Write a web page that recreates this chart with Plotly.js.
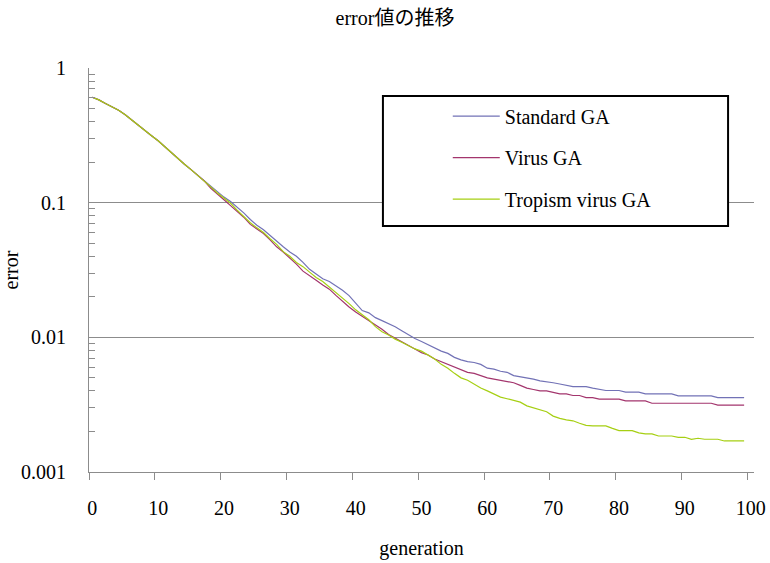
<!DOCTYPE html>
<html>
<head>
<meta charset="utf-8">
<script src="https://cdn.plot.ly/plotly-3.0.1.min.js"></script>
<style>html,body{margin:0;padding:0;background:#fff;}#chart{width:770px;height:563px;}</style>
</head>
<body>
<div id="chart"></div>
<script>
var generation = [0,1,2,3,4,5,6,7,8,9,10,11,12,13,14,15,16,17,18,19,20,21,22,23,24,25,26,27,28,29,30,31,32,33,34,35,36,37,38,39,40,41,42,43,44,45,46,47,48,49,50,51,52,53,54,55,56,57,58,59,60,61,62,63,64,65,66,67,68,69,70,71,72,73,74,75,76,77,78,79,80,81,82,83,84,85,86,87,88,89,90,91,92,93,94,95,96,97,98,99];

var standardGA = [0.606,0.58,0.545,0.515,0.485,0.45,0.41,0.372,0.343,0.314,0.288,0.26,0.236,0.215,0.193,0.176,0.16,
  0.147,0.132,0.12,0.11,0.102,0.093,0.084,0.075,0.068,0.063,0.057,0.052,0.047,0.043,0.040,0.036,0.032,0.0295,
  0.0272,0.026,0.0243,0.0224,0.0204,0.0180,0.0158,0.0152,0.0140,0.0133,0.0127,0.0120,0.0112,0.0104,0.0098,
  0.0093,0.0088,0.0084,0.0079,0.0076,0.0071,0.0068,0.0066,0.0065,0.0063,0.0059,0.0058,0.0056,0.0055,0.0052,
  0.0051,0.0050,0.0049,0.00475,0.0047,0.0046,0.0045,0.0044,0.0043,0.0043,0.0043,0.0042,0.0041,0.00403,0.00403,
  0.00403,0.00392,0.00392,0.00392,0.0038,0.0038,0.0038,0.0038,0.0038,0.00368,0.00368,0.00368,0.00368,0.00368,
  0.00368,0.00357,0.00357,0.00357,0.00357,0.00357];

var virusGA = [0.606,0.58,0.545,0.515,0.485,0.45,0.41,0.372,0.343,0.314,0.288,0.26,0.236,0.215,0.193,0.176,0.16,
  0.145,0.128,0.115,0.105,0.095,0.086,0.078,0.069,0.064,0.059,0.053,0.047,0.043,0.039,0.035,0.031,0.0285,0.0265,
  0.0245,0.0228,0.0205,0.0185,0.0168,0.0154,0.0143,0.0133,0.0124,0.0115,0.0105,0.0099,0.0093,0.0087,0.0082,
  0.0077,0.0074,0.0069,0.0066,0.0063,0.0060,0.0057,0.0055,0.0054,0.0052,0.0050,0.0049,0.0048,0.0047,0.0046,
  0.0044,0.0042,0.0041,0.0040,0.0040,0.0039,0.0038,0.0038,0.0037,0.0037,0.00357,0.00357,0.00348,0.00348,0.00348,
  0.00348,0.00337,0.00337,0.00337,0.00337,0.00324,0.00324,0.00324,0.00324,0.00324,0.00324,0.00324,0.00324,0.00324,
  0.00324,0.00314,0.00314,0.00314,0.00314,0.00314];

var tropismGA = [0.606,0.58,0.545,0.515,0.485,0.45,0.41,0.372,0.343,0.314,0.288,0.26,0.236,0.215,0.193,0.176,0.16,
  0.146,0.131,0.118,0.108,0.099,0.088,0.079,0.071,0.065,0.06,0.054,0.049,0.0433,0.040,0.036,0.0335,0.0305,0.0278,
  0.026,0.0237,0.0215,0.0198,0.0178,0.016,0.0146,0.0135,0.012,0.011,0.0104,0.0097,0.0092,0.0087,0.0082,
  0.0079,0.0074,0.0069,0.0063,0.0059,0.0054,0.0050,0.0048,0.0045,0.0042,0.0040,0.0038,0.0036,0.0035,0.0034,
  0.0033,0.0031,0.0030,0.0029,0.0028,0.0026,0.0025,0.00244,0.0024,0.0023,0.00222,0.0022,0.0022,0.0022,0.00211,
  0.00203,0.00203,0.00203,0.00195,0.00192,0.00192,0.00185,0.00185,0.00185,0.00181,0.00181,0.00175,0.00178,0.00175,
  0.00175,0.00175,0.0017,0.0017,0.0017,0.0017];

var seriesNames = ['Standard GA', 'Virus GA', 'Tropism virus GA'];
var seriesColors = ['#7272b6', '#a3356d', '#a6cf13'];
var xTickVals = [0,10,20,30,40,50,60,70,80,90,100];
var xTickText = ['0','10','20','30','40','50','60','70','80','90','100'];
var yTickVals = [0.001, 0.01, 0.1, 1];
var yTickText = ['0.001', '0.01', '0.1', '1'];
var yMinorVals = [0.002,0.003,0.004,0.005,0.006,0.007,0.008,0.009,
                  0.02,0.03,0.04,0.05,0.06,0.07,0.08,0.09,
                  0.2,0.3,0.4,0.5,0.6,0.7,0.8,0.9];

var serif = 'Liberation Serif, Times New Roman, serif';
var serifJP = 'Liberation Serif, Noto Sans CJK JP, serif';
var axisGray = '#8c8c8c';

var allSeries = [standardGA, virusGA, tropismGA];
var traces = allSeries.map(function (vals, i) {
  return {
    x: generation, y: vals, type: 'scatter', mode: 'lines',
    name: seriesNames[i], legendgroup: 'g' + i,
    line: {color: seriesColors[i], width: 1.2}
  };
});

var layout = {
  width: 770, height: 563,
  margin: {l: 89, r: 16, t: 68, b: 91},
  paper_bgcolor: '#fff', plot_bgcolor: '#fff',
  title: {text: 'error値の推移', font: {family: serifJP, size: 20, color: '#000'},
          x: 0.513, xref: 'container', y: 0.968, yref: 'container', yanchor: 'middle', xanchor: 'center'},
  xaxis: {
    range: [-0.5, 100.5], tickmode: 'array', tickvals: xTickVals, ticktext: xTickText,
    ticks: '', showline: true, linecolor: axisGray, linewidth: 1, showgrid: false, zeroline: false,
    tickfont: {family: serif, size: 20, color: '#000'}, ticklabelstandoff: 18,
    minor: {tickmode: 'linear', tick0: -0.5, dtick: 10, ticks: 'outside', ticklen: 7, tickcolor: axisGray, showgrid: false},
    title: {text: 'generation', font: {family: serif, size: 20, color: '#000'}, standoff: 22}
  },
  yaxis: {
    type: 'log', range: [-3, 0], tickmode: 'array', tickvals: yTickVals, ticktext: yTickText,
    ticks: '', showline: true, linecolor: axisGray, linewidth: 1, showgrid: true, gridcolor: axisGray, gridwidth: 1,
    zeroline: false, tickfont: {family: serif, size: 20, color: '#000'}, ticklabelstandoff: 18,
    minor: {tickmode: 'array', tickvals: yMinorVals, ticks: 'inside', ticklen: 6, tickcolor: axisGray, showgrid: false},
    title: {text: 'error', font: {family: serif, size: 20, color: '#000'}, standoff: 14}
  },
  shapes: [{type: 'rect', xref: 'paper', yref: 'paper', x0: 0.442, x1: 0.961, y0: 0.609, y1: 0.931,
            fillcolor: '#fff', line: {color: '#000', width: 2}, layer: 'above'}],
  showlegend: true,
  legend: {x: 0.5395, xanchor: 'left', y: 0.929, yanchor: 'top', bgcolor: 'rgba(0,0,0,0)', borderwidth: 0,
           font: {family: serif, size: 20, color: '#000'}, tracegroupgap: 12.5, itemwidth: 47, traceorder: 'grouped'}
};

Plotly.newPlot('chart', traces, layout, {displayModeBar: false, staticPlot: true});
</script>
</body>
</html>
